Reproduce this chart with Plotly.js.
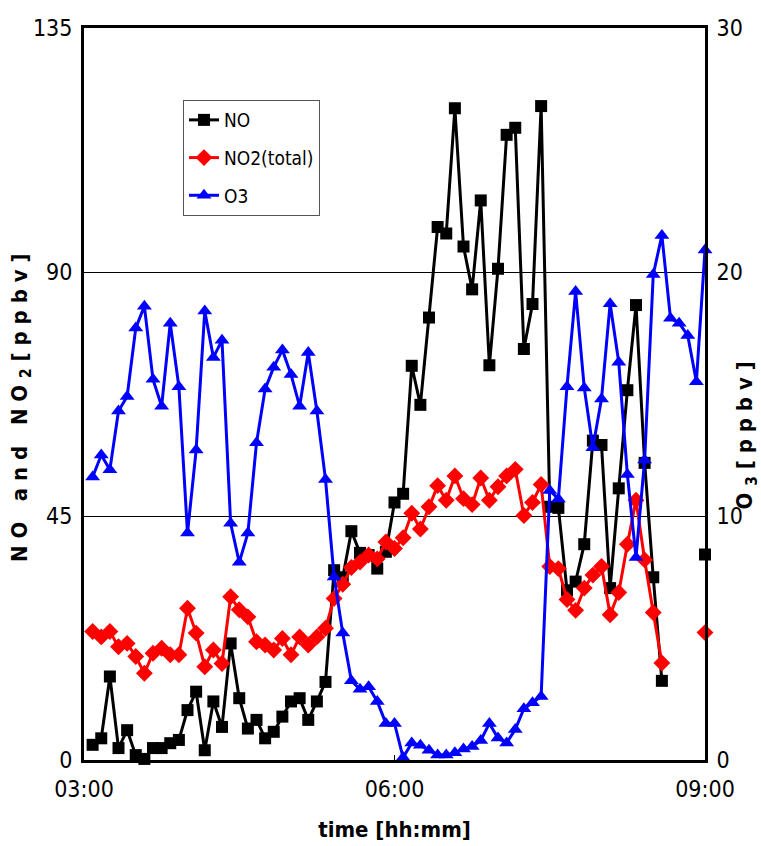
<!DOCTYPE html>
<html>
<head>
<meta charset="utf-8">
<script src="https://cdn.plot.ly/plotly-3.0.1.min.js"></script>
<style>
  html, body { margin: 0; padding: 0; background: #fff; }
  #chart { width: 761px; height: 846px; }
</style>
</head>
<body>
<div id="chart"></div>
<script>
// 5-minute time stamps (hh:mm)
const times = [
  "03:05","03:10","03:15","03:20","03:25","03:30","03:35","03:40","03:45","03:50","03:55","04:00",
  "04:05","04:10","04:15","04:20","04:25","04:30","04:35","04:40","04:45","04:50","04:55","05:00",
  "05:05","05:10","05:15","05:20","05:25","05:30","05:35","05:40","05:45","05:50","05:55","06:00",
  "06:05","06:10","06:15","06:20","06:25","06:30","06:35","06:40","06:45","06:50","06:55","07:00",
  "07:05","07:10","07:15","07:20","07:25","07:30","07:35","07:40","07:45","07:50","07:55","08:00",
  "08:05","08:10","08:15","08:20","08:25","08:30","08:35","08:40","08:45","08:50","08:55","09:00"
];

// NO [ppbv]
const no = [
  2.8, 4.0, 15.4, 2.2, 5.5, 0.9, 0.2, 2.2, 2.2, 3.1, 3.7, 9.2,
  12.6, 1.8, 10.8, 6.1, 21.5, 11.4, 5.8, 7.4, 4.0, 5.2, 8.0, 10.8,
  11.4, 7.4, 10.8, 14.4, 35.0, 33.7, 42.2, 38.2, 37.8, 35.3, 38.4, 47.5,
  49.1, 72.7, 65.5, 81.6, 98.3, 97.1, 120.2, 94.7, 86.8, 103.2, 72.8, 90.6,
  115.3, 116.6, 75.8, 84.1, 120.6, 46.7, 46.5, 31.3, 32.9, 39.8, 58.9, 58.1,
  31.7, 50.1, 68.2, 83.9, 54.8, 33.7, 14.6, null, null, null, null, 37.9
];

// NO2 (total) [ppbv]
const no2 = [
  23.7, 22.7, 23.7, 20.9, 21.5, 19.1, 16.0, 19.7, 20.6, 19.4, 19.4, 28.0,
  23.4, 17.2, 20.3, 17.8, 30.1, 27.7, 26.4, 21.8, 21.2, 20.3, 22.4, 19.4,
  22.7, 21.2, 22.7, 24.3, 29.8, 32.4, 35.5, 36.5, 37.8, 37.1, 40.2, 39.0,
  41.0, 45.5, 42.6, 46.7, 50.6, 47.9, 52.4, 48.2, 47.1, 52.0, 47.9, 50.4,
  52.4, 53.6, 45.1, 47.5, 50.8, 35.7, 35.3, 29.6, 27.6, 31.7, 34.1, 35.7,
  26.8, 30.9, 39.8, 47.9, 36.9, 27.2, 17.9, null, null, null, null, 23.5
];

// O3 [ppbv] (right axis)
const o3 = [
  11.6, 12.5, 11.9, 14.3, 14.9, 17.7, 18.6, 15.6, 14.5, 17.9, 15.3, 9.3,
  12.7, 18.4, 16.5, 17.2, 9.7, 8.1, 9.3, 13.0, 15.2, 16.1, 16.8, 15.8,
  14.5, 16.7, 14.3, 11.5, 7.5, 5.2, 3.25, 2.9, 3.0, 2.4, 1.5, 1.5,
  0.1, 0.7, 0.6, 0.4, 0.2, 0.2, 0.3, 0.45, 0.55, 0.8, 1.5, 0.9,
  0.7, 1.25, 2.1, 2.35, 2.6, 11.05, 10.7, 15.3, 19.2, 15.25, 12.8, 14.8,
  18.7, 16.3, 11.7, 8.3, 12.3, 19.9, 21.5, 18.1, 17.9, 17.4, 15.5, 20.9
];

const leftTicks = [0, 45, 90, 135];
const rightTicks = [0, 10, 20, 30];
const xTickLabels = ["03:00", "06:00", "09:00"];

const day = "2000-01-01 ";
const x = times.map(t => day + t);

const narrow = "Liberation Sans Narrow, DejaVu Sans Condensed, Arial Narrow, Liberation Sans, Arial, sans-serif";
const sp = "\u00A0";
const spaced = s => s.split("").join(sp);
const pad = n => sp.repeat(n);

const traces = [
  {
    x: x, y: no, name: "NO", type: "scatter", mode: "lines+markers",
    line: {color: "#000000", width: 3},
    marker: {symbol: "square", size: 12, color: "#000000"},
    cliponaxis: false, legendgroup: "a"
  },
  {
    x: x, y: no2, name: "NO2(total)", type: "scatter", mode: "lines+markers",
    line: {color: "#ff0000", width: 3},
    marker: {symbol: "diamond", size: 13, color: "#ff0000"},
    cliponaxis: false, legendgroup: "b"
  },
  {
    x: x, y: o3, name: "O3", type: "scatter", mode: "lines+markers", yaxis: "y2",
    line: {color: "#0000ff", width: 3},
    marker: {symbol: "triangle-up", size: 13, color: "#0000ff"},
    cliponaxis: false, legendgroup: "c"
  }
];

const layout = {
  width: 761, height: 846,
  margin: {l: 84, r: 56, t: 28, b: 86, pad: 0},
  paper_bgcolor: "#ffffff", plot_bgcolor: "#ffffff",
  font: {family: narrow, size: 20, color: "#000"},
  showlegend: true,
  legend: {
    x: 0.1594, y: 0.9016, xanchor: "left", yanchor: "top",
    bordercolor: "#555", borderwidth: 1, bgcolor: "#fff",
    font: {family: narrow, size: 19, color: "#000"},
    traceorder: "grouped", tracegroupgap: 10, itemwidth: 30
  },
  xaxis: {
    type: "date",
    range: [day + "03:00", day + "09:00"],
    tickvals: xTickLabels.map(t => day + t),
    ticktext: xTickLabels,
    ticks: "inside", ticklen: 5, tickwidth: 1, tickcolor: "#000",
    ticklabelstandoff: 6,
    showgrid: false, zeroline: false,
    showline: true, linewidth: 3, linecolor: "#000", mirror: true,
    tickfont: {family: narrow, size: 23},
    title: {text: "<b>time [hh:mm]</b>", font: {family: narrow, size: 22}, standoff: 22}
  },
  yaxis: {
    range: [0, 135],
    tickvals: leftTicks,
    ticks: "", showgrid: true, gridcolor: "#000", gridwidth: 1,
    ticklabelstandoff: 4,
    zeroline: false, showline: true, linewidth: 3, linecolor: "#000",
    tickfont: {family: narrow, size: 23},
    title: {
      text: "<b>" + spaced("NO") + pad(3) + spaced("and") + pad(3) +
            spaced("NO") + sp + "<sub>2</sub>" + sp + spaced("[ppbv]") + pad(4) + "</b>",
      font: {family: narrow, size: 22}, standoff: 0
    }
  },
  yaxis2: {
    range: [0, 30], overlaying: "y", side: "right",
    tickvals: rightTicks,
    ticks: "", showgrid: false, zeroline: false,
    ticklabelstandoff: 4,
    showline: true, linewidth: 3, linecolor: "#000",
    tickfont: {family: narrow, size: 23},
    title: {
      text: "<b>O" + sp + "<sub>3</sub>" + sp + spaced("[ppbv]") + pad(12) + "</b>",
      font: {family: narrow, size: 22}, standoff: 0
    }
  }
};

Plotly.newPlot("chart", traces, layout, {displayModeBar: false, staticPlot: true});
</script>
</body>
</html>
